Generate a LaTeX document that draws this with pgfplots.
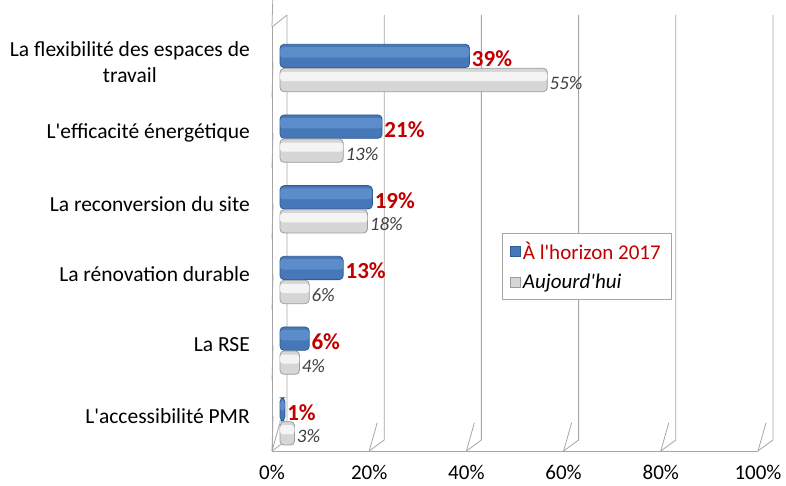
\documentclass[border=0pt]{standalone}
\usepackage{fontspec}
\setmainfont{Carlito}[Ligatures=TeXOff]
\usepackage{pgfplots}
\pgfplotsset{compat=1.18}

\definecolor{blueM}{HTML}{4677B8}
\definecolor{blueH}{HTML}{72A2DD}
\definecolor{blueE}{HTML}{2E5A92}
\definecolor{grayM}{HTML}{D6D6D6}
\definecolor{grayE}{HTML}{9C9C9C}
\definecolor{lblred}{HTML}{C00000}
\definecolor{lblgray}{HTML}{404040}
\definecolor{gridc}{HTML}{A6A6A6}

\begin{document}
\begin{tikzpicture}
\useasboundingbox (-272pt,-34pt) rectangle (514pt,451pt);
\begin{axis}[
  scale only axis, width=486pt, height=424pt,
  at={(0,0)}, anchor=south west,
  clip=false,
  xbar, bar width=0.33,
  xmin=-1.65, xmax=98.35, ymin=-0.5, ymax=5.5,
  xtick={-1.65,18.35,38.35,58.35,78.35,98.35},
  xticklabels={0\%,20\%,40\%,60\%,80\%,100\%},
  ytick={0,...,5},
  yticklabels={L'accessibilité PMR, La RSE, La rénovation durable,
    La reconversion du site, L'efficacité énergétique,
    {La flexibilité des espaces de\\travail}},
  axis line style={draw=none},
  tick style={draw=none},
  major tick length=0pt,
  xticklabel style={font=\fontsize{21}{25}\selectfont, inner sep=0pt, yshift=-14pt},
  yticklabel style={font=\fontsize{21.5}{26}\selectfont, inner sep=0pt, xshift=-22pt, align=center},
  /pgf/number format/assume math mode=true,
  point meta=x,
  legend style={at={(rel axis cs:0.473,0.514)}, anchor=north west,
    draw=gray!70, fill=white, font=\fontsize{21}{25}\selectfont,
    row sep=9pt, inner xsep=8pt, inner ysep=7pt},
  legend cell align=left,
]
% 3D-like walls and grid
\pgfplotsinvokeforeach{0,0.2,0.4,0.6,0.8,1}{
  \draw[gridc, line width=0.8pt] (rel axis cs:#1,0)
    -- ([shift={(15pt,11pt)}]rel axis cs:#1,0)
    -- ([shift={(15pt,12pt)}]rel axis cs:#1,1);
  \draw[gridc, line width=0.8pt] (rel axis cs:#1,0) -- ++(0,-7pt);
}
\draw[gridc, line width=0.8pt] (rel axis cs:0,1) -- (rel axis cs:0,0) -- (rel axis cs:1,0);
\draw[gridc, line width=0.8pt] (rel axis cs:0,1) -- ([shift={(15pt,12pt)}]rel axis cs:0,1);
\pgfplotsinvokeforeach{0,0.16667,0.33333,0.5,0.66667,0.83333,1}{
  \draw[gridc, line width=0.8pt] (rel axis cs:0,#1) -- ++(-7pt,0);
}

\addplot[bar shift=0.09, draw=blueE, fill=blueM, line width=0.8pt,
  rounded corners=4pt,
  nodes near coords={\pgfmathprintnumber{\pgfplotspointmeta}\%},
  every node near coord/.append style={font=\fontsize{23}{27}\selectfont\bfseries,
    text=lblred, inner sep=1pt, xshift=1pt, yshift=-3pt},
  legend image code/.code={\draw[draw=blueE, fill=blueM, sharp corners]
    (0pt,-5pt) rectangle (10pt,5pt);}]
  coordinates {(1,0) (6,1) (13,2) (19,3) (21,4) (39,5)};
\addlegendentry{\textcolor{lblred}{À l'horizon 2017}}

\addplot[bar shift=-0.25, draw=grayE, fill=grayM, line width=0.8pt,
  rounded corners=4pt,
  nodes near coords={\pgfmathprintnumber{\pgfplotspointmeta}\%},
  every node near coord/.append style={font=\fontsize{19}{23}\selectfont\itshape,
    text=lblgray, inner sep=1pt, xshift=1pt, yshift=-3pt},
  legend image code/.code={\draw[draw=grayE, fill=grayM, sharp corners]
    (0pt,-5pt) rectangle (10pt,5pt);}]
  coordinates {(3,0) (4,1) (6,2) (18,3) (13,4) (55,5)};
\addlegendentry{\textit{Aujourd'hui}}

% highlights giving the bars a rounded, glossy look
\addplot[forget plot, bar shift=0.14, bar width=0.15, draw=none, fill=blueH,
  fill opacity=0.5, rounded corners=3pt]
  coordinates {(1,0) (6,1) (13,2) (19,3) (21,4) (39,5)};
\addplot[forget plot, bar shift=-0.20, bar width=0.13, draw=none, fill=white,
  fill opacity=0.75, rounded corners=3pt]
  coordinates {(3,0) (4,1) (6,2) (18,3) (13,4) (55,5)};
\end{axis}
\end{tikzpicture}
\end{document}
